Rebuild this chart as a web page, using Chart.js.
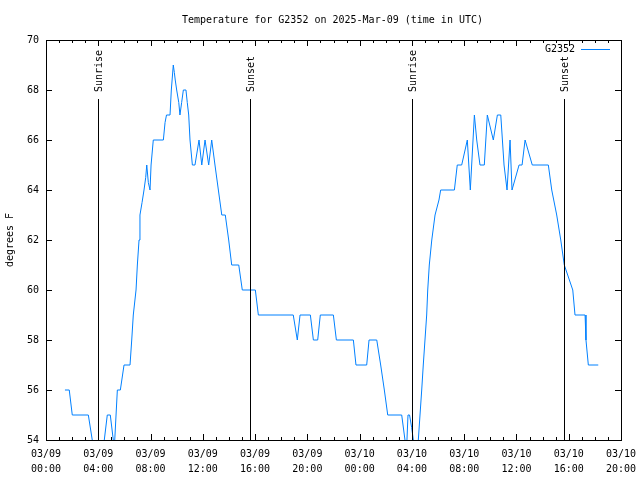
<!DOCTYPE html>
<html>
<head>
<meta charset="utf-8">
<title>Temperature for G2352</title>
<script src="https://cdn.jsdelivr.net/npm/chart.js@4.4.1/dist/chart.umd.min.js"></script>
<style>
  html, body { margin: 0; padding: 0; background: #fff; }
  #tempChart { display: block; }
</style>
</head>
<body>
<canvas id="tempChart" width="640" height="480"></canvas>
<script>
// hours since 03/09 00:00 UTC
const times = [
    1.45, 1.78, 2.01, 3.24, 3.54, 3.75, 4.29, 4.46, 4.69, 4.92, 5.15, 5.20, 5.26, 5.46, 5.69, 5.97,
    6.43, 6.56, 6.68, 6.89, 6.99, 7.12, 7.19, 7.35, 7.50, 7.63, 7.71, 7.83, 7.96, 8.04, 8.21,
    8.98, 9.11, 9.22, 9.49, 9.59, 9.74, 9.82, 9.89, 10.00, 10.16, 10.25, 10.38, 10.51, 10.71,
    10.81, 10.92, 11.02, 11.20, 11.40, 11.71, 11.92, 12.17, 12.45, 12.68, 12.93, 13.19, 13.45,
    13.72, 13.98, 14.21, 14.75, 15.02, 16.02, 16.25, 18.92, 19.23, 19.44, 20.23, 20.46, 20.79,
    20.99, 21.99, 22.22, 23.52, 23.72, 24.54, 24.72, 25.31, 25.61, 25.89, 26.15, 27.22, 27.47,
    27.59, 27.70, 27.82, 27.98, 28.11, 28.28, 28.49, 28.62, 28.75, 28.87, 29.00, 29.13, 29.21,
    29.33, 29.52, 29.77, 30.07, 30.20, 31.25, 31.47, 31.81, 32.24, 32.47, 32.78, 32.96, 33.21,
    33.54, 33.77, 34.23, 34.54, 34.80, 35.05, 35.28, 35.51, 35.66, 36.20, 36.43, 36.66, 37.21,
    38.44, 38.70, 39.08, 39.39, 39.66, 40.31, 40.48, 41.25, 41.32, 41.50, 42.26
];
const temps = [
    56, 56, 55, 55, 54, 53, 53, 54, 55, 55, 54, 53.6, 54, 56, 56, 57,
    57, 58, 59, 60, 61, 62, 63, 63.5, 64, 64.5, 65, 64.3, 64, 65, 66,
    66, 66.7, 67, 67, 68, 69, 68.7, 68.4, 68, 67.5, 67, 67.5, 68, 68,
    67.5, 67, 66, 65, 65, 66, 65, 66, 65, 66, 65, 64, 63,
    63, 62, 61, 61, 60, 60, 59, 59, 58, 59, 59, 58, 58,
    59, 59, 58, 58, 57, 57, 58, 58, 57, 56, 55, 55, 54,
    53.6, 55, 55, 54.5, 54, 53.5, 54, 55, 56, 57, 58, 59, 60,
    61, 62, 63, 63.6, 64, 64, 65, 65, 66, 64, 67, 66, 65,
    65, 67, 66, 67, 67, 65, 64, 66, 64, 65, 65, 66, 65,
    65, 64, 63, 62, 61, 60, 59, 59, 58, 57, 57
];

const xTickDates = ['03/09', '03/09', '03/09', '03/09', '03/09', '03/09',
                    '03/10', '03/10', '03/10', '03/10', '03/10', '03/10'];
const xTickTimes = ['00:00', '04:00', '08:00', '12:00', '16:00', '20:00',
                    '00:00', '04:00', '08:00', '12:00', '16:00', '20:00'];
const yTickValues = [54, 56, 58, 60, 62, 64, 66, 68, 70];

const sunTimes = [4.00, 15.63, 28.03, 39.66];
const sunLabels = ['Sunrise', 'Sunset', 'Sunrise', 'Sunset'];

const FONT = '10px "DejaVu Sans Mono", "Liberation Mono", monospace';
const LINE_COLOR = 'rgb(0,128,255)';

// border, inward ticks, sun lines and labels the way gnuplot draws them
const gnuplotFrame = {
    id: 'gnuplotFrame',
    beforeDatasetsDraw(chart) {
        const { ctx, chartArea: a, scales: { x, y } } = chart;
        ctx.save();
        ctx.strokeStyle = '#000';
        ctx.lineWidth = 1;
        ctx.beginPath();
        // x ticks: major every 4h, minor every hour, top and bottom
        for (let h = 0; h <= 44; h++) {
            const px = Math.round(x.getPixelForValue(h)) + 0.5;
            const len = h % 4 === 0 ? 6 : 3;
            ctx.moveTo(px, a.bottom);
            ctx.lineTo(px, a.bottom - len);
            ctx.moveTo(px, a.top);
            ctx.lineTo(px, a.top + len);
        }
        yTickValues.forEach(v => {
            const py = Math.round(y.getPixelForValue(v)) + 0.5;
            ctx.moveTo(a.left, py);
            ctx.lineTo(a.left + 6, py);
            ctx.moveTo(a.right, py);
            ctx.lineTo(a.right - 6, py);
        });
        ctx.stroke();
        ctx.strokeRect(a.left + 0.5, a.top + 0.5, a.right - a.left, a.bottom - a.top);
        ctx.restore();
    },
    afterDatasetsDraw(chart) {
        const { ctx, chartArea: a, scales: { x } } = chart;
        const lineTop = a.top + Math.round((a.bottom - a.top) * 0.148);
        ctx.save();
        ctx.strokeStyle = '#000';
        ctx.fillStyle = '#000';
        ctx.lineWidth = 1;
        ctx.font = FONT;
        sunTimes.forEach((t, i) => {
            const px = Math.round(x.getPixelForValue(t)) + 0.5;
            ctx.beginPath();
            ctx.moveTo(px, lineTop);
            ctx.lineTo(px, a.bottom);
            ctx.stroke();
            ctx.save();
            ctx.translate(px + 1, lineTop - 7);
            ctx.rotate(-Math.PI / 2);
            ctx.textAlign = 'left';
            ctx.textBaseline = 'middle';
            ctx.fillText(sunLabels[i], 0, 0);
            ctx.restore();
        });

        // legend
        ctx.textAlign = 'right';
        ctx.textBaseline = 'middle';
        ctx.fillText('G2352', a.right - 46, a.top + 9);
        ctx.strokeStyle = LINE_COLOR;
        ctx.beginPath();
        ctx.moveTo(a.right - 40, a.top + 9.5);
        ctx.lineTo(a.right - 11, a.top + 9.5);
        ctx.stroke();

        // title and y axis title
        ctx.fillStyle = '#000';
        ctx.textAlign = 'center';
        ctx.fillText('Temperature for G2352 on 2025-Mar-09 (time in UTC)', (a.left + a.right) / 2 - 1, 20);
        ctx.translate(10, (a.top + a.bottom) / 2);
        ctx.rotate(-Math.PI / 2);
        ctx.fillText('degrees F', 0, 0);
        ctx.restore();
    }
};

function createTempChart() {
    const ctx = document.getElementById('tempChart').getContext('2d');
    new Chart(ctx, {
        type: 'line',
        data: {
            datasets: [{
                label: 'G2352',
                data: times.map((t, i) => ({ x: t, y: temps[i] })),
                borderColor: LINE_COLOR,
                borderWidth: 1,
                pointRadius: 0,
                tension: 0,
                fill: false,
                clip: 0
            }]
        },
        options: {
            responsive: false,
            animation: false,
            layout: { padding: { top: 40, right: 19, left: 0, bottom: 0 } },
            plugins: {
                legend: { display: false },
                title: { display: false },
                tooltip: { enabled: false }
            },
            scales: {
                x: {
                    type: 'linear',
                    min: 0,
                    max: 44,
                    grid: { display: false, drawTicks: false },
                    border: { display: false },
                    ticks: {
                        stepSize: 4,
                        padding: 7,
                        maxRotation: 0,
                        autoSkip: false,
                        color: '#000',
                        font: { family: '"DejaVu Sans Mono", monospace', size: 10, lineHeight: 1.5 },
                        callback: (v, i) => [xTickDates[i], xTickTimes[i]]
                    },
                    afterFit: s => {
                        s.height = 40;
                        s.paddingLeft = 0;
                        s.paddingRight = 0;
                    }
                },
                y: {
                    min: 54,
                    max: 70,
                    grid: { display: false, drawTicks: false },
                    border: { display: false },
                    ticks: {
                        stepSize: 2,
                        padding: 7,
                        color: '#000',
                        font: { family: '"DejaVu Sans Mono", monospace', size: 10 }
                    },
                    afterFit: s => {
                        s.width = 46;
                        s.paddingTop = 0;
                        s.paddingBottom = 0;
                    }
                }
            }
        },
        plugins: [gnuplotFrame]
    });
}

document.addEventListener('DOMContentLoaded', () => {
    createTempChart();
});
</script>
</body>
</html>
